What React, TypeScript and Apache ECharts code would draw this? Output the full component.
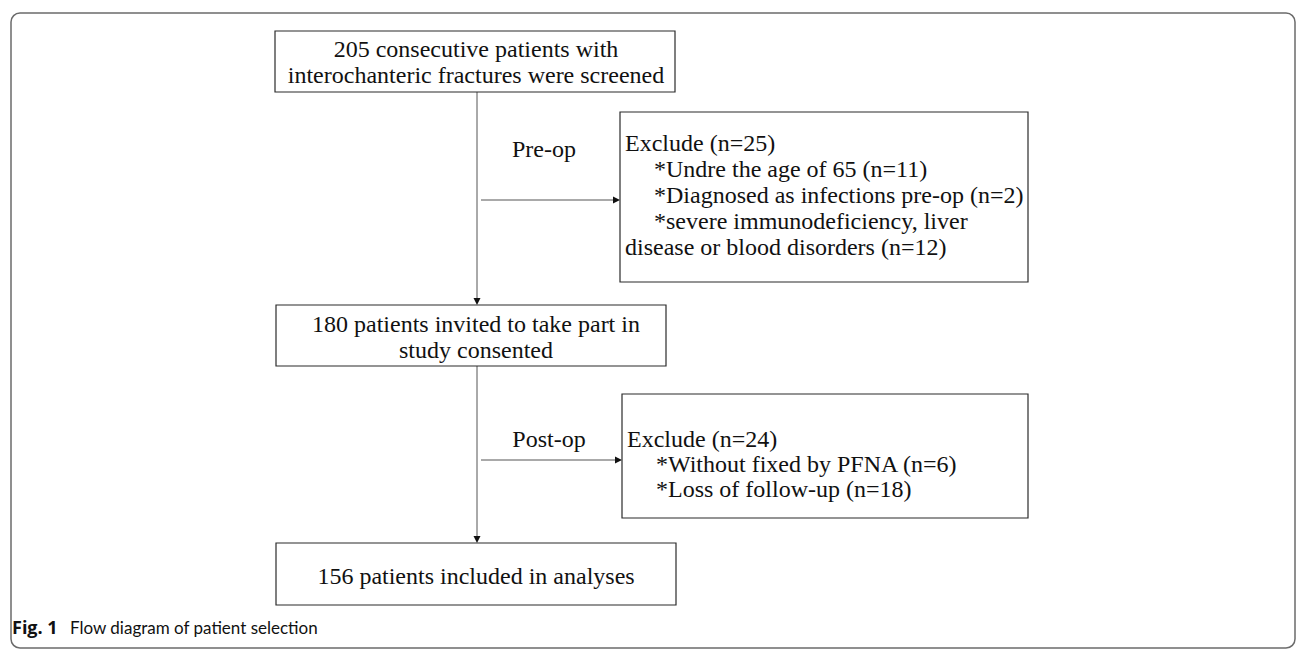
import React, { useEffect, useRef } from "react";
import * as echarts from "echarts";

// ---- content ----
const topBoxLines = ["205 consecutive patients with", "interochanteric fractures were screened"];
const midBoxLines = ["180 patients invited to take part in", "study consented"];
const bottomBoxLines = ["156 patients included in analyses"];
const preOpLabel = "Pre-op";
const postOpLabel = "Post-op";
const exclude1Lines = [
  "Exclude (n=25)",
  "*Undre the age of 65 (n=11)",
  "*Diagnosed as infections pre-op (n=2)",
  "*severe immunodeficiency, liver",
  "disease or blood disorders (n=12)",
];
const exclude1Indent = [false, true, true, true, false];
const exclude2Lines = ["Exclude (n=24)", "*Without fixed by PFNA (n=6)", "*Loss of follow-up (n=18)"];
const exclude2Indent = [false, true, true];
const captionBold = "Fig. 1";
const captionText = "Flow diagram of patient selection";

const SERIF = '24px "Liberation Serif", "Times New Roman", serif';
const BOX_STROKE = "#2b2b2b";
const LINE_STROKE = "#555";

function rect(x: number, y: number, w: number, h: number) {
  return {
    type: "rect",
    shape: { x, y, width: w, height: h },
    style: { fill: "#fff", stroke: BOX_STROKE, lineWidth: 1.2 },
    silent: true,
  };
}
function line(x1: number, y1: number, x2: number, y2: number) {
  return {
    type: "line",
    shape: { x1, y1, x2, y2 },
    style: { stroke: LINE_STROKE, lineWidth: 1 },
    silent: true,
  };
}
function arrowDown(x: number, y: number) {
  return {
    type: "polygon",
    shape: { points: [[x - 3.5, y - 7], [x + 3.5, y - 7], [x, y]] },
    style: { fill: "#111" },
    silent: true,
  };
}
function arrowRight(x: number, y: number) {
  return {
    type: "polygon",
    shape: { points: [[x - 7, y - 3.5], [x - 7, y + 3.5], [x, y]] },
    style: { fill: "#111" },
    silent: true,
  };
}
function text(t: string, x: number, y: number, align: string, font = SERIF) {
  return {
    type: "text",
    x,
    y,
    style: {
      text: t,
      font,
      fill: "#111",
      textAlign: align,
      textVerticalAlign: "middle",
    },
    silent: true,
  };
}

export default function App() {
  const ref = useRef<HTMLDivElement>(null);
  useEffect(() => {
    if (!ref.current) return;
    const chart = echarts.init(ref.current, undefined, { renderer: "svg" });
    const els: any[] = [];
    // outer frame
    els.push({
      type: "rect",
      shape: { x: 11, y: 13, width: 1284, height: 635, r: 9 },
      style: { fill: "none", stroke: "#6b6b6b", lineWidth: 1.5 },
      silent: true,
    });
    const cx = 477;
    // connectors
    els.push(line(cx, 92, cx, 300), arrowDown(cx, 305));
    els.push(line(481, 200, 614, 200), arrowRight(620, 200));
    els.push(line(cx, 366, cx, 537), arrowDown(cx, 543));
    els.push(line(481, 460, 616, 460), arrowRight(622, 460));
    // boxes
    els.push(rect(275, 31, 400, 61));
    topBoxLines.forEach((t, i) => els.push(text(t, 476, 49 + i * 26, "center")));
    els.push(rect(276, 305, 390, 61));
    midBoxLines.forEach((t, i) => els.push(text(t, 476, 324 + i * 26, "center")));
    els.push(rect(276, 543, 400, 62));
    bottomBoxLines.forEach((t, i) => els.push(text(t, 476, 576 + i * 26, "center")));
    els.push(rect(620, 112, 408, 170));
    exclude1Lines.forEach((t, i) =>
      els.push(text(t, exclude1Indent[i] ? 654 : 625, 143 + i * 26, "left"))
    );
    els.push(rect(622, 394, 406, 124));
    exclude2Lines.forEach((t, i) =>
      els.push(text(t, exclude2Indent[i] ? 656 : 627, 439 + i * 25, "left"))
    );
    // step labels
    els.push(text(preOpLabel, 544, 149, "center"));
    els.push(text(postOpLabel, 549, 439, "center"));
    // caption
    els.push(text(captionBold, 12, 627, "left", 'bold 18px "Open Sans", "Noto Sans", sans-serif'));
    els.push(text(captionText, 70, 627, "left", '17px "Lato", "Open Sans", sans-serif'));

    chart.setOption({
      animation: false,
      backgroundColor: "#fff",
      graphic: { elements: els },
    });
    return () => chart.dispose();
  }, []);
  return (
    <div
      ref={ref}
      style={{ position: "absolute", left: 0, top: 0, width: 1296, height: 649, background: "#fff" }}
    />
  );
}
